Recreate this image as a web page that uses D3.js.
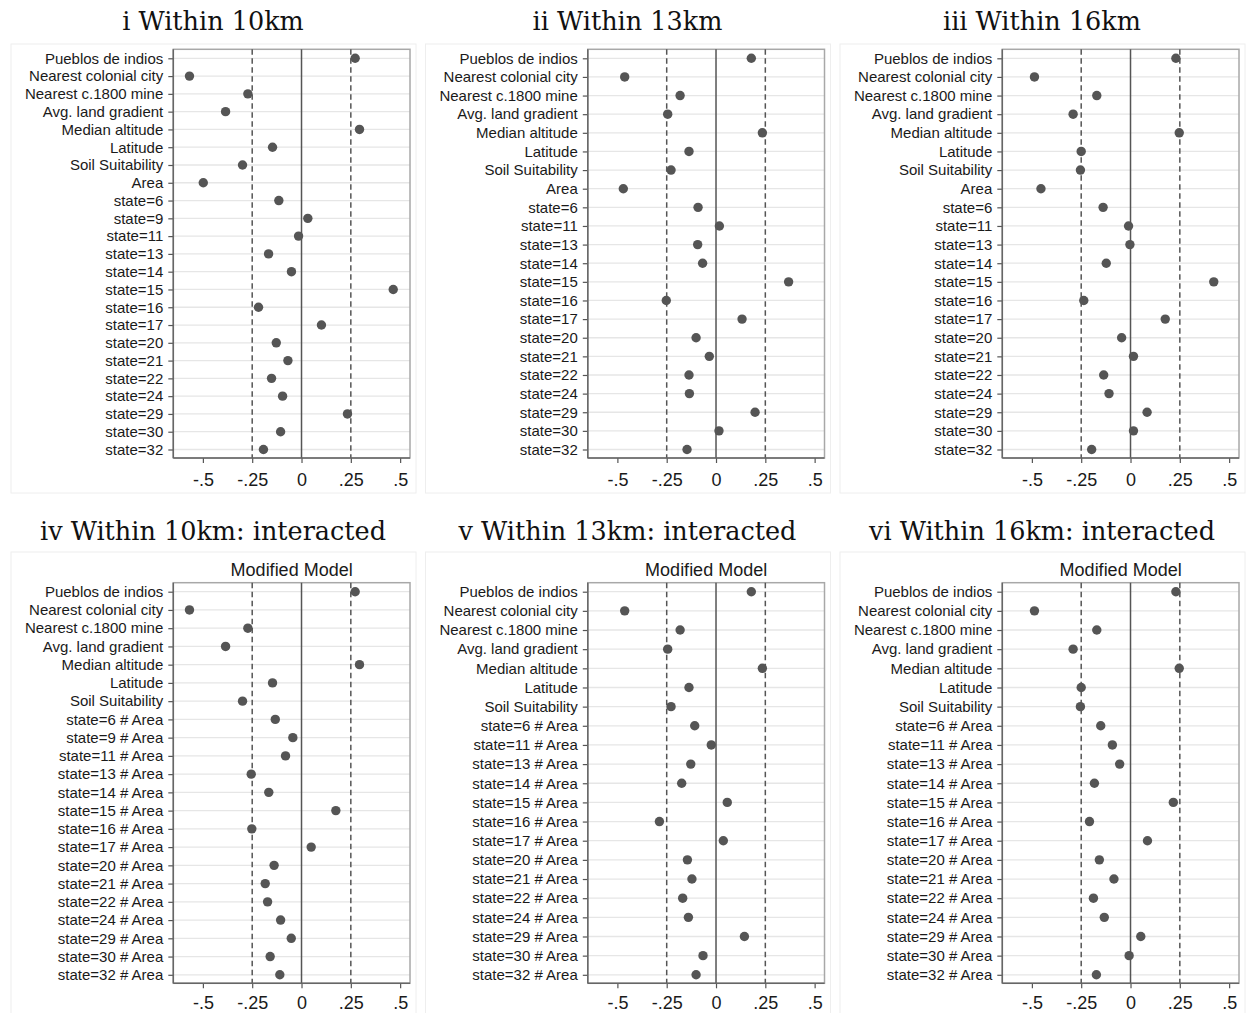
<!DOCTYPE html>
<html>
<head>
<meta charset="utf-8">
<script src="https://cdn.jsdelivr.net/npm/d3@7"></script>
<style>
  body { margin: 0; background: #fff; }
  .ylab text { font-family: "Liberation Sans", Arial, sans-serif; font-size: 15px; fill: #1a1a1a; }
  .xlab text { font-family: "Liberation Sans", Arial, sans-serif; font-size: 18px; fill: #1a1a1a; }
</style>
</head>
<body>
<svg id="chart" width="1251" height="1013"></svg>
<script>
// row labels
const baseLabels = ["Pueblos de indios", "Nearest colonial city", "Nearest c.1800 mine",
  "Avg. land gradient", "Median altitude", "Latitude", "Soil Suitability"];
const states10 = [6, 9, 11, 13, 14, 15, 16, 17, 20, 21, 22, 24, 29, 30, 32];
const states13 = [6, 11, 13, 14, 15, 16, 17, 20, 21, 22, 24, 29, 30, 32];
const states16 = [6, 11, 13, 14, 15, 16, 17, 20, 21, 22, 24, 29, 30, 32];

// panel titles
const titles = ["i Within 10km", "ii Within 13km", "iii Within 16km",
  "iv Within 10km: interacted", "v Within 13km: interacted", "vi Within 16km: interacted"];

// coefficients, same order as the labels
const vals10 = [0.272, -0.568, -0.272, -0.385, 0.294, -0.147, -0.299, -0.498,
  -0.115, 0.032, -0.015, -0.167, -0.051, 0.465, -0.218, 0.101, -0.128, -0.069, -0.152, -0.096, 0.233, -0.106, -0.193];
const vals13 = [0.179, -0.463, -0.182, -0.245, 0.235, -0.137, -0.228, -0.470,
  -0.091, 0.017, -0.093, -0.068, 0.368, -0.252, 0.132, -0.101, -0.034, -0.137, -0.135, 0.198, 0.015, -0.147];
const vals16 = [0.230, -0.487, -0.171, -0.291, 0.247, -0.250, -0.254, -0.454,
  -0.139, -0.010, -0.003, -0.123, 0.422, -0.237, 0.176, -0.045, 0.015, -0.136, -0.109, 0.084, 0.015, -0.197];
const vals10i = [0.272, -0.568, -0.272, -0.385, 0.294, -0.147, -0.299,
  -0.133, -0.044, -0.081, -0.255, -0.166, 0.174, -0.252, 0.049, -0.139, -0.184, -0.172, -0.106, -0.052, -0.159, -0.110];
const vals13i = [0.179, -0.463, -0.182, -0.245, 0.235, -0.137, -0.228,
  -0.108, -0.024, -0.128, -0.174, 0.057, -0.287, 0.037, -0.145, -0.122, -0.169, -0.140, 0.144, -0.066, -0.101];
const vals16i = [0.230, -0.487, -0.171, -0.291, 0.247, -0.250, -0.254,
  -0.151, -0.092, -0.055, -0.183, 0.217, -0.208, 0.086, -0.158, -0.084, -0.188, -0.133, 0.052, -0.007, -0.173];

const xTicks = [-0.5, -0.25, 0, 0.25, 0.5];
const xTickLabels = ["-.5", "-.25", "0", ".25", ".5"];
const refLines = [-0.25, 0.25];

function topLabels(states) {
  return baseLabels.concat(["Area"], states.map(s => "state=" + s));
}
function botLabels(states) {
  return baseLabels.concat(states.map(s => "state=" + s + " # Area"));
}

const panels = [
  { labels: topLabels(states10), vals: vals10 },
  { labels: topLabels(states13), vals: vals13 },
  { labels: topLabels(states16), vals: vals16 },
  { labels: botLabels(states10), vals: vals10i, sub: "Modified Model" },
  { labels: botLabels(states13), vals: vals13i, sub: "Modified Model" },
  { labels: botLabels(states16), vals: vals16i, sub: "Modified Model" }
];

const svg = d3.select("#chart");
const panelW = 414.5;
const rows = [
  { titleY: 30, frameTop: 44, frameBot: 493, plotTop: 49.3, plotBot: 458, pad: 10 },
  { titleY: 540, frameTop: 552, frameBot: 1020, plotTop: 582.7, plotBot: 983.3, pad: 8 }
];

panels.forEach(function(p, k) {
  var col = k % 3, r = rows[Math.floor(k / 3)];
  var ox = col * panelW;
  var left = ox + 173.3, right = ox + 410;

  var g = svg.append("g");

  // graph region frame
  g.append("rect")
    .attr("x", ox + 11).attr("y", r.frameTop)
    .attr("width", 405).attr("height", r.frameBot - r.frameTop)
    .attr("fill", "none").attr("stroke", "#eeeeee").attr("stroke-width", 1);

  g.append("text")
    .attr("x", ox + 213).attr("y", r.titleY)
    .attr("text-anchor", "middle")
    .style("font-family", "'DejaVu Serif', serif")
    .style("font-size", "25.5px")
    .style("fill", "#111")
    .text(titles[k]);

  if (p.sub) {
    g.append("text")
      .attr("x", (left + right) / 2).attr("y", r.plotTop - 6.5)
      .attr("text-anchor", "middle")
      .style("font-family", "'Liberation Sans', Arial, sans-serif")
      .style("font-size", "18px")
      .style("fill", "#1a1a1a")
      .text(p.sub);
  }

  var x = d3.scaleLinear().domain([-0.65, 0.55]).range([left, right]);
  var y = d3.scalePoint().domain(p.labels).range([r.plotTop + 9, r.plotBot - 8.5]);

  // grid lines
  g.selectAll(".grid")
    .data(p.labels)
    .enter().append("line")
    .attr("x1", left).attr("x2", right)
    .attr("y1", d => y(d)).attr("y2", d => y(d))
    .attr("stroke", "#e6e6e6").attr("stroke-width", 1.3);

  // plot border
  g.append("rect")
    .attr("x", left).attr("y", r.plotTop)
    .attr("width", right - left).attr("height", r.plotBot - r.plotTop)
    .attr("fill", "none").attr("stroke", "#a8a8a8").attr("stroke-width", 1.5);

  // reference lines
  g.selectAll(".ref")
    .data(refLines)
    .enter().append("line")
    .attr("x1", d => x(d)).attr("x2", d => x(d))
    .attr("y1", r.plotTop).attr("y2", r.plotBot)
    .attr("stroke", "#555").attr("stroke-width", 1.5)
    .attr("stroke-dasharray", "5.5,3.5");
  g.append("line")
    .attr("x1", x(0)).attr("x2", x(0))
    .attr("y1", r.plotTop).attr("y2", r.plotBot)
    .attr("stroke", "#555").attr("stroke-width", 1.5);

  // axes
  var ya = g.append("g").attr("class", "ylab")
    .attr("transform", "translate(" + left + ",0)")
    .call(d3.axisLeft(y).tickSize(5).tickSizeOuter(0).tickPadding(5));
  ya.select(".domain").remove();
  ya.selectAll("line").attr("stroke", "#555").attr("stroke-width", 1.2);
  g.append("line")
    .attr("x1", left).attr("x2", left)
    .attr("y1", r.plotTop).attr("y2", r.plotBot)
    .attr("stroke", "#666").attr("stroke-width", 1.5);

  var xa = g.append("g").attr("class", "xlab")
    .attr("transform", "translate(0," + r.plotBot + ")")
    .call(d3.axisBottom(x).tickValues(xTicks).tickSize(5).tickPadding(r.pad)
      .tickFormat((d, i) => xTickLabels[i]));
  xa.select(".domain").remove();
  xa.selectAll("line").attr("stroke", "#555").attr("stroke-width", 1.2);
  g.append("line")
    .attr("x1", left).attr("x2", right)
    .attr("y1", r.plotBot).attr("y2", r.plotBot)
    .attr("stroke", "#666").attr("stroke-width", 1.5);

  // points
  g.selectAll(".dot")
    .data(p.labels)
    .enter().append("circle")
    .attr("cx", (d, i) => x(p.vals[i]))
    .attr("cy", d => y(d))
    .attr("r", 4.7)
    .attr("fill", "#555");
});
</script>
</body>
</html>
